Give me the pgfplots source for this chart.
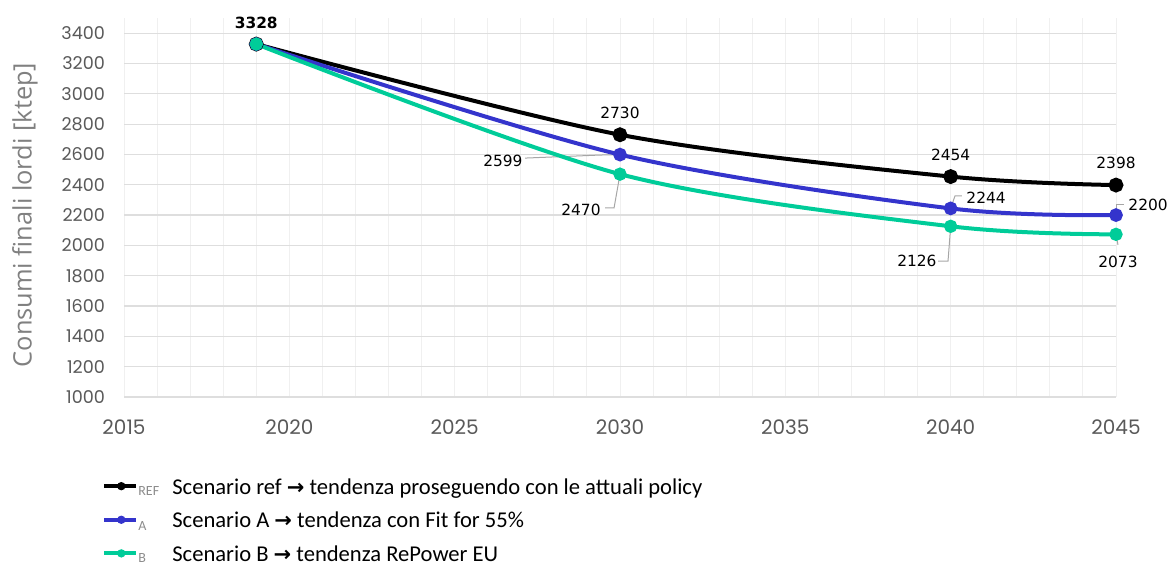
\documentclass[border=0pt]{standalone}
\usepackage{fontspec}
\setmainfont{Carlito}
\newfontfamily\tickfont{Poppins}
\newfontfamily\labfont{DejaVu Sans}
\newfontfamily\ylabfont{Open Sans}
\usepackage{pgfplots}
\pgfplotsset{compat=1.18}
\definecolor{refc}{HTML}{000000}
\definecolor{ac}{HTML}{3434CC}
\definecolor{bc}{HTML}{00CC99}
\definecolor{tickgray}{HTML}{595959}
\definecolor{leadgray}{HTML}{A6A6A6}
\newcommand{\arr}{{\labfont\bfseries\fontsize{10.5}{12}\selectfont →}}
\newcommand{\tag}[2]{\makebox[17pt][l]{\raisebox{#2}{\fontsize{7}{8}\selectfont\color{black!45}#1}}}
\begin{document}
\begin{tikzpicture}
\begin{axis}[name=ax, scale only axis, width=496pt, height=189.5pt,
  xmin=2015, xmax=2045, ymin=1000, ymax=3500,
  xtick={2015,2020,...,2045}, minor x tick num=4,
  ytick={1000,1200,...,3400},
  xmajorgrids, xminorgrids, ymajorgrids,
  major x grid style={draw=black!6, line width=0.5pt},
  minor x grid style={draw=black!6, line width=0.5pt},
  major y grid style={draw=black!13, line width=0.6pt},
  axis line style={draw=none}, tick style={draw=none},
  clip=false,
  /pgf/number format/assume math mode=true,
  /pgf/number format/1000 sep={},
  x tick label style={font=\tickfont\fontsize{10}{12}\selectfont, text=tickgray, yshift=-8pt},
  y tick label style={font=\tickfont\fontsize{8.8}{10}\selectfont, text=tickgray, xshift=-6pt},
  ylabel={Consumi finali lordi [ktep]},
  ylabel style={at={(axis description cs:-0.0998,0.48)}, anchor=center, font=\ylabfont\fontsize{12.7}{14}\selectfont, text=black!50},
  legend style={at={(axis description cs:-0.0283,-0.192)}, anchor=north west, draw=none, fill=none,
    font=\fontsize{11.3}{13}\selectfont, row sep=4.8pt,
    nodes={inner sep=0pt, text height=10pt, text depth=2pt}},
  legend cell align=left,
  legend image code/.code={\draw[#1, line width=2pt] (0pt,0pt) -- (16pt,0pt); \fill[#1, draw=none] (8.5pt,0pt) circle (2.1pt);},
]
% leader lines
\draw[leadgray, line width=0.5pt] (axis cs:2027.13,2576) -- (axis cs:2029.39,2596) -- (axis cs:2030,2599);
\draw[leadgray, line width=0.5pt] (axis cs:2029.55,2247) -- (axis cs:2029.82,2247) -- (axis cs:2030,2470);
\draw[leadgray, line width=0.5pt] (axis cs:2040,2244) -- (axis cs:2040.13,2326) -- (axis cs:2040.34,2326);
\draw[leadgray, line width=0.5pt] (axis cs:2039.62,1897) -- (axis cs:2039.92,1897) -- (axis cs:2040,2126);
\draw[leadgray, line width=0.5pt] (axis cs:2045,2200) -- (axis cs:2045,2273) -- (axis cs:2045.24,2273);
\draw[leadgray, line width=0.5pt] (axis cs:2045,2073) -- (axis cs:2045.06,2003);

\addplot[refc, line width=2pt, smooth, mark=*, mark size=2.7pt] coordinates {(2019,3328) (2030,2730) (2040,2454) (2045,2398)};
\addlegendentry{\tag{REF}{-0.8pt}Scenario ref \arr{} tendenza proseguendo con le attuali policy}
\addplot[ac, line width=2pt, smooth, mark=*, mark size=2.4pt] coordinates {(2019,3328) (2030,2599) (2040,2244) (2045,2200)};
\addlegendentry{\tag{A}{-1.5pt}Scenario A \arr{} tendenza con Fit for 55\%}
\addplot[bc, line width=2pt, smooth, mark=*, mark size=2.3pt] coordinates {(2019,3328) (2030,2470) (2040,2126) (2045,2073)};
\addlegendentry{\tag{B}{-0.8pt}Scenario B \arr{} tendenza RePower EU}

% data labels
\begin{scope}[every node/.style={font=\labfont\fontsize{7.7}{9}\selectfont, text=black, anchor=center, inner sep=0pt}]
\node[font=\labfont\bfseries\fontsize{7.7}{9}\selectfont] at (axis cs:2019,3467) {3328};
\node at (axis cs:2030,2873) {2730};
\node at (axis cs:2040,2596) {2454};
\node at (axis cs:2045,2543) {2398};
\node at (axis cs:2026.46,2557) {2599};
\node at (axis cs:2028.82,2233) {2470};
\node at (axis cs:2041.07,2313) {2244};
\node at (axis cs:2038.98,1897) {2126};
\node at (axis cs:2045.97,2266) {2200};
\node at (axis cs:2045.06,1890) {2073};
\end{scope}
\end{axis}
\pgfresetboundingbox
\path ([xshift=-62pt, yshift=-83pt]ax.south west) rectangle ([xshift=523pt, yshift=9pt]ax.north west);
\end{tikzpicture}
\end{document}
